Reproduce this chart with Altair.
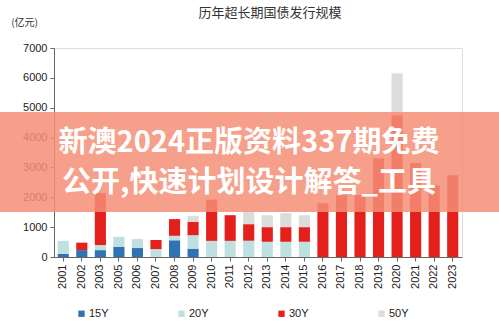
import altair as alt
import pandas as pd

years = ["2001", "2002", "2003", "2005", "2006", "2007", "2008", "2009", "2010", "2011", "2012",
         "2013", "2014", "2015", "2016", "2017", "2018", "2019", "2020", "2021", "2022", "2023"]
y15 = [100, 230, 230, 345, 300, 0, 560, 280, 0, 0, 0, 0, 0, 0, 0, 0, 0, 0, 0, 0, 0, 0]
y20 = [440, 0, 170, 335, 300, 265, 150, 450, 540, 540, 545, 510, 510, 510, 0, 0, 0, 0, 0, 0, 0, 0]
y30 = [0, 250, 1740, 0, 0, 305, 560, 450, 1380, 860, 555, 490, 490, 490, 1800, 2070, 2070, 3300, 4750, 3150, 2400, 2740]
y50 = [0, 0, 0, 0, 0, 0, 0, 190, 0, 0, 410, 400, 470, 400, 0, 0, 0, 0, 1400, 0, 0, 0]

series = ["15Y", "20Y", "30Y", "50Y"]
colors = ["#2F73B5", "#BFE0E0", "#E3201C", "#DCDCDC"]
title_text = "历年超长期国债发行规模"
unit_text = "(亿元)"
banner_lines = ["新澳2024正版资料337期免费", "公开,快速计划设计解答_工具"]

rows = []
for i, yr in enumerate(years):
    for k, (s, vals) in enumerate(zip(series, [y15, y20, y30, y50])):
        rows.append({"year": yr, "series": s, "value": vals[i], "ord": k})
df = pd.DataFrame(rows)

bars = alt.Chart(df).mark_bar().encode(
    x=alt.X("year:N", sort=years, title=None,
            scale=alt.Scale(paddingInner=0.4, paddingOuter=0.2),
            axis=alt.Axis(labelAngle=-90, labelFontSize=11, labelColor="#222",
                          labelFont="Liberation Sans", tickSize=4, tickColor="#666",
                          domainColor="#666", labelPadding=3)),
    y=alt.Y("value:Q", stack="zero",
            scale=alt.Scale(domain=[0, 7000], nice=False),
            axis=alt.Axis(values=list(range(0, 7001, 1000)), grid=False, format="d",
                          labelFontSize=11, labelColor="#222", labelFont="Liberation Sans",
                          tickSize=4, tickColor="#666", domainColor="#666", labelPadding=3,
                          title=unit_text, titleAngle=0, titleX=-30, titleY=-26,
                          titleAlign="center", titleBaseline="middle",
                          titleFontSize=10, titleFontWeight="normal", titleColor="#333",
                          titleFont="Noto Sans CJK SC")),
    color=alt.Color("series:N", scale=alt.Scale(domain=series, range=colors),
                    legend=alt.Legend(title=None, orient="none", direction="horizontal",
                                      columns=4, legendX=22, legendY=260,
                                      symbolType="square", symbolSize=40,
                                      labelFontSize=11, labelFont="Liberation Sans",
                                      labelColor="#222", labelOffset=2,
                                      columnPadding=67, symbolStrokeWidth=0)),
    order=alt.Order("ord:Q"),
)

title_df = pd.DataFrame({"t": [title_text]})
title = alt.Chart(title_df).mark_text(
    font="Noto Sans CJK SC", fontSize=13, color="#333", align="center", baseline="middle"
).encode(x=alt.value(216), y=alt.value(-35), text="t:N")

banner_df = pd.DataFrame({"a": [0]})
banner = alt.Chart(banner_df).mark_rect(color="#F48E76", opacity=0.85).encode(
    x=alt.value(-54), x2=alt.value(445), y=alt.value(64), y2=alt.value(164)
)

line_df = pd.DataFrame({"t": banner_lines, "row": [0, 1]})
btext = alt.Chart(line_df).transform_calculate(py="95 + datum.row * 40").mark_text(
    font="Noto Sans CJK SC", fontSize=29, fontWeight="bold", color="#FFFFFF",
    align="center", baseline="middle"
).encode(x=alt.value(195), y=alt.Y("py:Q", scale=None), text="t:N")

chart = alt.layer(bars, title, banner, btext).resolve_scale(y="independent").properties(
    width=408, height=209,
    autosize=alt.AutoSizeParams(type="none"),
    padding={"left": 54, "top": 48, "right": 37, "bottom": 67},
).configure_view(stroke=None).configure(background="white")

chart.save("out.html", embed_options={"renderer": "svg", "actions": False})
